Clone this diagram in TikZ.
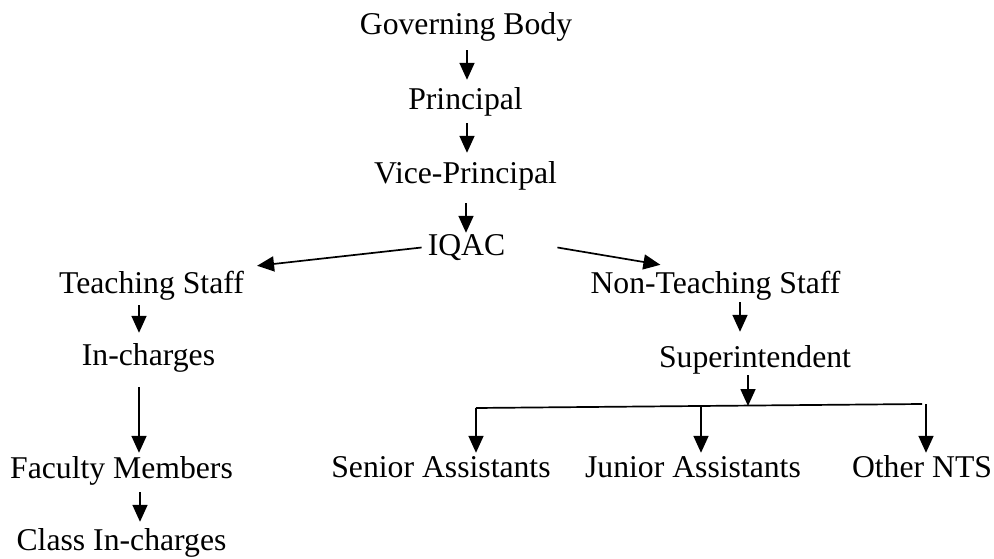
\documentclass[tikz,border=0pt]{standalone}
\usepackage{fontspec}
\setmainfont{Liberation Serif}
\usetikzlibrary{arrows.meta,calc}
\begin{document}
\begin{tikzpicture}[x=1pt,y=-1pt,
  lbl/.style={anchor=base,inner sep=0pt,text height=22pt,text depth=7pt,font=\fontsize{31.7}{36}\selectfont},
  arr/.style={-{Triangle[length=17pt,width=15pt]},line width=1.7pt},
  ln/.style={line width=1.7pt}]
\useasboundingbox (0,0) rectangle (994,559);
\node[lbl] (gb) at (466,35) {Governing Body};
\node[lbl] (pr) at (465.5,110) {Principal};
\node[lbl] (vp) at (465.5,183) {Vice-Principal};
\node[lbl] (iq) at (466.5,255) {IQAC};
\node[lbl] (ts) at (151.5,293) {Teaching Staff};
\node[lbl] (ic) at (148.5,365) {In-charges};
\node[lbl] (fm) at (121.5,478) {Faculty Members};
\node[lbl] (ci) at (121.5,550) {Class In-charges};
\node[lbl] (nts) at (715.5,293) {Non-Teaching Staff};
\node[lbl] (sup) at (755,367) {Superintendent};
\node[lbl] (sa) at (441,477) {Senior Assistants};
\node[lbl] (ja) at (693,477) {Junior Assistants};
\node[lbl] (on) at (922,477) {Other NTS};
\coordinate (barL) at (476,408);
\coordinate (barM) at (748,406);
\coordinate (barR) at (922,404);
\draw[arr] ($(gb.south)+(1,8)$) -- ($(pr.north)+(1.5,-8)$);
\draw[arr] ($(pr.south)+(1.5,6)$) -- ($(vp.north)+(1.5,-8)$);
\draw[arr] ($(vp.south)+(0.5,13)$) -- ($(iq.north)+(-0.5,0)$);
\draw[arr] ($(iq.west)+(-6,0)$) -- ($(ts.north east)+(13,-5)$);
\draw[arr] ($(iq.east)+(52,0)$) -- ($(nts.north west)+(70,-6)$);
\draw[arr] ($(ts.south)+(-12.5,5)$) -- ($(ic.north)+(-9.5,-10)$);
\draw[arr] ($(ic.south)+(-9.5,15)$) -- ($(fm.north)+(17.5,-3)$);
\draw[arr] ($(fm.south)+(18.5,7)$) -- ($(ci.north)+(18.5,-6)$);
\draw[arr] ($(nts.south)+(24.5,2)$) -- ($(sup.north)+(-15,-13)$);
\draw[arr] ($(sup.south)+(-7,1)$) -- (barM);
\draw[ln] (barL) -- (barR);
\draw[arr] (barL) -- ($(sa.north)+(35,-2)$);
\draw[arr] ($(ja.north)+(8,-49)$) -- ($(ja.north)+(8,-2)$);
\draw[arr] ($(barR)+(4,0)$) -- ($(on.north)+(4,-2)$);
\end{tikzpicture}
\end{document}
